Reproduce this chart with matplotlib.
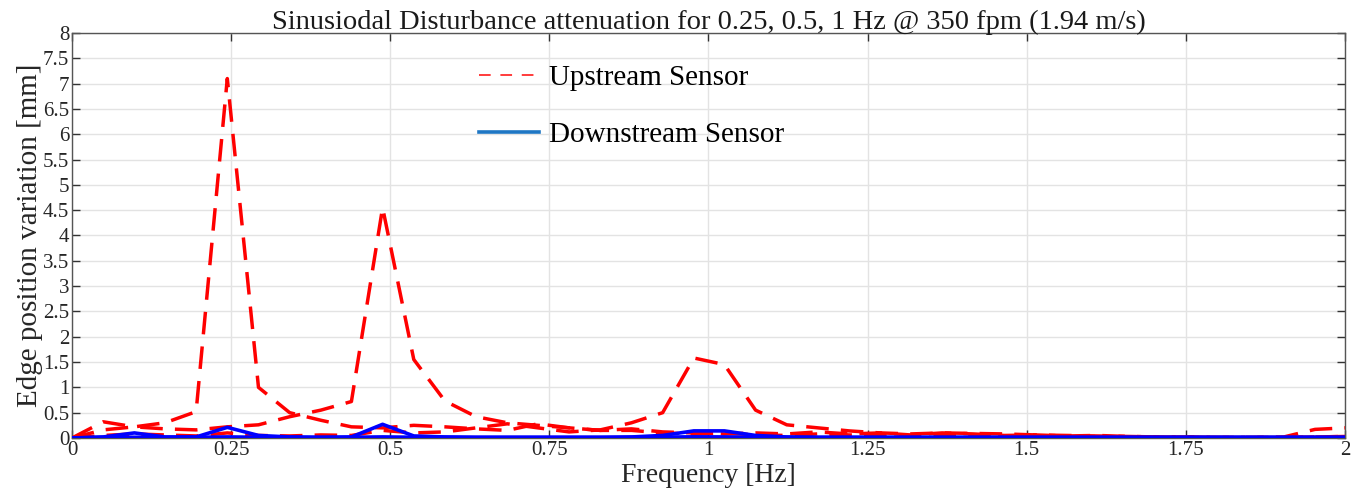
import matplotlib
matplotlib.use("Agg")
import matplotlib.pyplot as plt
from matplotlib.lines import Line2D

# ---------------- data ----------------
freq = [0.000, 0.049, 0.098, 0.146, 0.195, 0.244, 0.293, 0.342, 0.391, 0.439,
        0.488, 0.537, 0.586, 0.635, 0.684, 0.732, 0.781, 0.830, 0.879, 0.928,
        0.977, 1.025, 1.074, 1.123, 1.172, 1.221, 1.270, 1.318, 1.367, 1.416,
        1.465, 1.514, 1.563, 1.611, 1.660, 1.709, 1.758, 1.807, 1.855, 1.904,
        1.953, 2.002]

up_025 = [0.00, 0.32, 0.22, 0.30, 0.52, 7.10, 1.00, 0.50, 0.35, 0.22,
          0.20, 0.25, 0.22, 0.18, 0.15, 0.28, 0.20, 0.15, 0.18, 0.12,
          0.10, 0.08, 0.10, 0.08, 0.12, 0.08, 0.10, 0.06, 0.10, 0.08,
          0.05, 0.06, 0.04, 0.05, 0.03, 0.02, 0.02, 0.01, 0.01, 0.02,
          0.17, 0.20]
up_05 = [0.00, 0.16, 0.22, 0.18, 0.16, 0.22, 0.26, 0.42, 0.55, 0.72,
         4.55, 1.55, 0.73, 0.42, 0.30, 0.25, 0.20, 0.15, 0.15, 0.10,
         0.08, 0.10, 0.06, 0.05, 0.08, 0.06, 0.05, 0.04, 0.06, 0.05,
         0.04, 0.03, 0.02, 0.03, 0.02, 0.01, 0.01, 0.01, 0.01, 0.01,
         0.02, 0.03]
up_1 = [0.00, 0.05, 0.08, 0.06, 0.04, 0.10, 0.05, 0.04, 0.06, 0.05,
        0.15, 0.10, 0.12, 0.20, 0.28, 0.20, 0.12, 0.16, 0.30, 0.50,
        1.58, 1.45, 0.55, 0.26, 0.20, 0.14, 0.10, 0.08, 0.10, 0.09,
        0.08, 0.06, 0.05, 0.04, 0.03, 0.02, 0.02, 0.01, 0.01, 0.01,
        0.02, 0.03]

dn_025 = [0.00, 0.02, 0.10, 0.02, 0.02, 0.21, 0.05, 0.02, 0.01, 0.01,
          0.02, 0.01, 0.01, 0.01, 0.01, 0.01, 0.01, 0.01, 0.01, 0.01,
          0.02, 0.01, 0.01, 0.01, 0.01, 0.01, 0.01, 0.01, 0.01, 0.01,
          0.01, 0.01, 0.01, 0.01, 0.01, 0.01, 0.01, 0.01, 0.01, 0.01,
          0.01, 0.01]
dn_05 = [0.00, 0.01, 0.01, 0.01, 0.01, 0.02, 0.01, 0.01, 0.01, 0.02,
         0.27, 0.04, 0.02, 0.01, 0.01, 0.01, 0.01, 0.01, 0.01, 0.01,
         0.02, 0.02, 0.01, 0.01, 0.01, 0.01, 0.01, 0.01, 0.01, 0.01,
         0.01, 0.01, 0.01, 0.01, 0.01, 0.01, 0.01, 0.01, 0.01, 0.01,
         0.01, 0.01]
dn_1 = [0.00, 0.01, 0.01, 0.01, 0.01, 0.01, 0.01, 0.01, 0.01, 0.01,
        0.01, 0.01, 0.01, 0.01, 0.01, 0.01, 0.01, 0.01, 0.02, 0.05,
        0.14, 0.14, 0.05, 0.02, 0.01, 0.01, 0.01, 0.01, 0.01, 0.01,
        0.01, 0.01, 0.01, 0.01, 0.01, 0.01, 0.01, 0.01, 0.01, 0.01,
        0.01, 0.01]

xticks = [0, 0.25, 0.5, 0.75, 1, 1.25, 1.5, 1.75, 2]
xticklabels = ["0", "0.25", "0.5", "0.75", "1", "1.25", "1.5", "1.75", "2"]
yticks = [i * 0.5 for i in range(17)]
yticklabels = ["0", "0.5", "1", "1.5", "2", "2.5", "3", "3.5", "4", "4.5",
               "5", "5.5", "6", "6.5", "7", "7.5", "8"]

title = "Sinusiodal Disturbance attenuation for 0.25, 0.5, 1 Hz @ 350 fpm (1.94 m/s)"

# ---------------- plot ----------------
plt.rcParams['font.family'] = ['Liberation Serif', 'DejaVu Serif']

fig = plt.figure(figsize=(13.61, 4.93), dpi=100)
ax = fig.add_axes([0.0529, 0.1116, 0.9353, 0.8215])

for ys in (up_025, up_05, up_1):
    ax.plot(freq, ys, color='#ff0000', lw=2.5, linestyle=(0, (6.5, 3.5)),
            solid_capstyle='butt', zorder=3)
for ys in (dn_025, dn_05, dn_1):
    ax.plot(freq, ys, color='#0000ff', lw=2.6, zorder=4)

ax.set_xlim(0, 2)
ax.set_ylim(0, 8)
ax.set_xticks(xticks)
ax.set_xticklabels(xticklabels)
ax.set_yticks(yticks)
ax.set_yticklabels(yticklabels)
ax.grid(True, color='#e3e3e3', lw=1.0, zorder=0)
ax.set_axisbelow(True)
ax.tick_params(direction='in', length=6, width=1, colors='#333333',
               labelsize=15, top=True, right=True, pad=2)
for lab in ax.get_xticklabels() + ax.get_yticklabels():
    lab.set_color('#262626')
for sp in ax.spines.values():
    sp.set_color('#555555')
    sp.set_linewidth(1.0)

ax.set_xlabel("Frequency [Hz]", fontsize=20, color='#262626', labelpad=2)
ax.set_ylabel("Edge position variation [mm]", fontsize=21, color='#262626', labelpad=0)
ax.set_title(title, fontsize=20.5, color='#1a1a1a', pad=3)

handles = [Line2D([], [], color='#ff3b3b', lw=1.4, linestyle=(0, (6, 5))),
           Line2D([], [], color='#1f77c4', lw=2.6)]
ax.legend(handles, ["Upstream Sensor", "Downstream Sensor"], loc='upper left',
          bbox_to_anchor=(0.32, 0.922), frameon=False, fontsize=21,
          handlelength=2.05, handletextpad=0.35, labelspacing=1.05,
          borderpad=0, borderaxespad=0)

fig.savefig("out.png", dpi=100)
